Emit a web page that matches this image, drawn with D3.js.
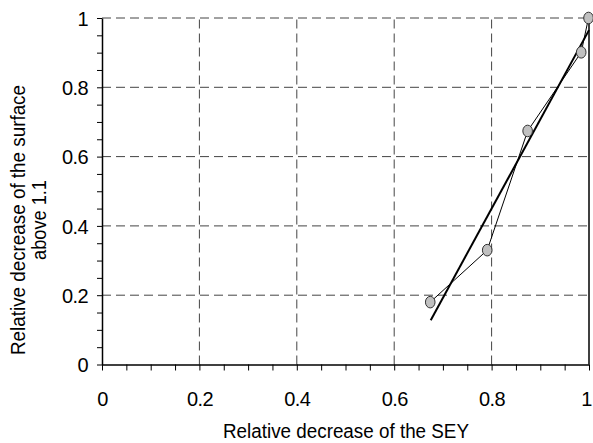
<!DOCTYPE html>
<html>
<head>
<meta charset="utf-8">
<script src="https://cdn.jsdelivr.net/npm/d3@7"></script>
<style>
  body { margin: 0; background: #fff; }
  text { font-family: "Liberation Sans", Arial, sans-serif; fill: #000; }
  .tick text { font-size: 20px; letter-spacing: -0.6px; }
  .title { font-size: 20px; }
</style>
</head>
<body>
<div id="chart-area"></div>
<script>
// measured points
var sey = [0.674, 0.791, 0.874, 0.984, 0.999];
var surface = [0.18, 0.33, 0.674, 0.901, 1.0];
// linear fit drawn in the figure (two end points)
var fitX = [0.675, 1.0];
var fitY = [0.128, 0.965];

var svg = d3.select("#chart-area").append("svg")
    .attr("width", 593)
    .attr("height", 443);

var x = d3.scaleLinear().domain([0, 1]).range([102, 589]);
var y = d3.scaleLinear().domain([0, 1]).range([364.5, 18]);

var minorTicks = d3.range(0, 1.0001, 0.05);
var isMajor = function (v) { return Math.abs(v * 5 - Math.round(v * 5)) < 1e-6; };
var fmt = function (v) { return isMajor(v) ? String(+v.toFixed(1)) : ""; };

// Grid
svg.selectAll("line.vgrid")
    .data([0.2, 0.4, 0.6, 0.8])
    .enter().append("line")
    .attr("class", "vgrid")
    .attr("x1", function (d) { return x(d); })
    .attr("x2", function (d) { return x(d); })
    .attr("y1", y(0))
    .attr("y2", y(1))
    .attr("stroke", "#444")
    .attr("stroke-dasharray", "9,5");

svg.selectAll("line.hgrid")
    .data([0.2, 0.4, 0.6, 0.8, 1])
    .enter().append("line")
    .attr("class", "hgrid")
    .attr("x1", x(0))
    .attr("x2", x(1))
    .attr("y1", function (d) { return y(d); })
    .attr("y2", function (d) { return y(d); })
    .attr("stroke", "#444")
    .attr("stroke-dasharray", "9,5");

// right border
svg.append("line")
    .attr("x1", x(1)).attr("x2", x(1))
    .attr("y1", y(0)).attr("y2", y(1))
    .attr("stroke", "#000")
    .attr("stroke-width", 1.5);

// Axes
var xAxis = svg.append("g")
    .attr("transform", "translate(0," + y(0) + ")")
    .call(d3.axisBottom(x).tickValues(minorTicks).tickSize(6).tickSizeOuter(0).tickPadding(21).tickFormat(fmt));

var yAxis = svg.append("g")
    .attr("transform", "translate(" + x(0) + ",0)")
    .call(d3.axisLeft(y).tickValues(minorTicks).tickSize(5).tickSizeOuter(0).tickPadding(9).tickFormat(fmt));

[xAxis, yAxis].forEach(function (g) {
    g.select(".domain").attr("stroke", "#000").attr("stroke-width", 1.5);
    g.selectAll(".tick line").attr("stroke", "#000");
});
xAxis.selectAll(".tick text").attr("dy", "0.71em");
yAxis.selectAll(".tick text").attr("dy", "0.36em");
// keep the last label inside the page
xAxis.selectAll(".tick text").filter(function (d) { return d > 0.99; }).attr("dx", -3);

// Fit line
svg.append("line")
    .attr("x1", x(fitX[0])).attr("y1", y(fitY[0]))
    .attr("x2", x(fitX[1])).attr("y2", y(fitY[1]))
    .attr("stroke", "#000")
    .attr("stroke-width", 2);

// Data line
var line = d3.line()
    .x(function (d, i) { return x(sey[i]); })
    .y(function (d, i) { return y(surface[i]); });

svg.append("path")
    .datum(sey)
    .attr("d", line)
    .attr("fill", "none")
    .attr("stroke", "#000")
    .attr("stroke-width", 1);

// Markers
svg.selectAll("ellipse")
    .data(sey)
    .enter().append("ellipse")
    .attr("cx", function (d) { return x(d); })
    .attr("cy", function (d, i) { return y(surface[i]); })
    .attr("rx", 4.8)
    .attr("ry", 5.8)
    .attr("fill", "#c0c0c0")
    .attr("stroke", "#333")
    .attr("stroke-width", 1);

// Titles (squeezed a little, like the original narrow lettering)
svg.append("text")
    .attr("class", "title")
    .attr("x", 223)
    .attr("y", 438)
    .attr("textLength", 246)
    .attr("lengthAdjust", "spacingAndGlyphs")
    .text("Relative decrease of the SEY");

var yt = svg.append("g")
    .attr("transform", "translate(0,220) rotate(-90)");
yt.append("text")
    .attr("class", "title")
    .attr("x", -135)
    .attr("y", 25)
    .attr("textLength", 270)
    .attr("lengthAdjust", "spacingAndGlyphs")
    .text("Relative decrease of the surface");
yt.append("text")
    .attr("class", "title")
    .attr("x", -40)
    .attr("y", 46)
    .attr("textLength", 80)
    .attr("lengthAdjust", "spacingAndGlyphs")
    .text("above 1.1");
</script>
</body>
</html>
